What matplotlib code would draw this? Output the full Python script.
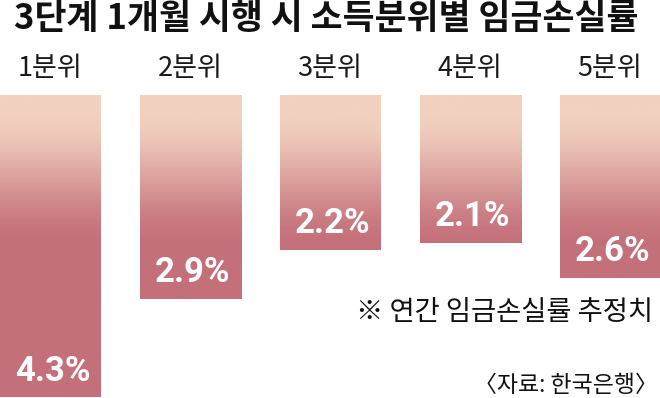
import matplotlib
matplotlib.use('Agg')
import matplotlib.pyplot as plt
import numpy as np
from matplotlib.colors import LinearSegmentedColormap
from matplotlib.patches import Rectangle

TITLE = '3단계 1개월 시행 시 소득분위별 임금손실률'
categories = ['1분위', '2분위', '3분위', '4분위', '5분위']
values = [4.3, 2.9, 2.2, 2.1, 2.6]
note = '※ 연간 임금손실률 추정치'
source = '〈자료: 한국은행〉'

KR = ['Noto Sans CJK KR', 'DejaVu Sans']
NUM = ['Roboto', 'DejaVu Sans']

W, H = 660, 398
PX_PER_UNIT = 70.3   # pixels per 1 %p
TOP = 95             # pixel row where bars start
STEP = 140           # pixel distance between bar centers
X0 = 50              # pixel center of first bar
BAR_W = 101 / STEP

fig = plt.figure(figsize=(W / 100, H / 100), dpi=100)
ax = fig.add_axes([0, 0, 1, (H - TOP) / H])
ax.set_xlim(-X0 / STEP, (W - X0) / STEP)
ymax = (H - TOP) / PX_PER_UNIT
ax.set_ylim(ymax, 0)
ax.axis('off')

cmap = LinearSegmentedColormap.from_list('peach', ['#f2d1c0', '#c4707a'])
# vertical gradient fixed to the page: light at top, full colour ~2.2 units down
yy = np.linspace(0, ymax, 400)
t = np.clip((yy - 0.2) / 2.0, 0, 1)
t = t * t * (3 - 2 * t)
grad = t[:, None]

for i, v in enumerate(values):
    rect = Rectangle((i - BAR_W / 2, 0), BAR_W, v, facecolor='none', edgecolor='none')
    ax.add_patch(rect)
    im = ax.imshow(grad, cmap=cmap, vmin=0, vmax=1, aspect='auto',
                   extent=(i - BAR_W / 2, i + BAR_W / 2, ymax, 0))
    im.set_clip_path(rect)
    ax.text(i + 0.02, v - 26 / PX_PER_UNIT, f'{v}%', ha='center', va='center',
            color='white', fontsize=25, fontweight='bold', family=NUM)
    ax.text(i, -27 / PX_PER_UNIT, categories[i], ha='center', va='center',
            color='#1a1a1a', fontsize=19.5, family=KR)

ax.set_xlim(-X0 / STEP, (W - X0) / STEP)
ax.set_ylim(ymax, 0)

fig.text(14 / W, 1 - 18 / H, TITLE, ha='left', va='center', fontsize=25,
         fontweight='bold', family=KR, color='#111111')
fig.text(653 / W, 1 - 313 / H, note, ha='right', va='center', fontsize=19.7,
         family=KR, color='#111111')
fig.text(658 / W, 1 - 385 / H, source, ha='right', va='center', fontsize=16.5,
         family=KR, color='#111111')

fig.savefig('out.png', dpi=100, facecolor='white')
